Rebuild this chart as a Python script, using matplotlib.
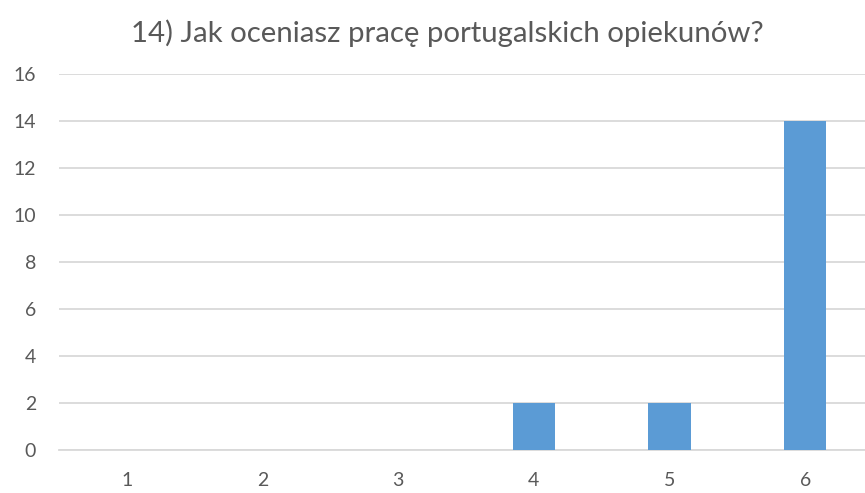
import matplotlib
matplotlib.use("Agg")
import matplotlib.pyplot as plt

# ratings and how many people gave each
categories = ["1", "2", "3", "4", "5", "6"]
counts = [0, 0, 0, 2, 2, 14]
y_ticks = [0, 2, 4, 6, 8, 10, 12, 14, 16]
title = "14) Jak oceniasz pracę portugalskich opiekunów?"

plt.rcParams['font.family'] = ['Lato', 'DejaVu Sans']

fig = plt.figure(figsize=(8.65, 4.93), dpi=100)
ax = fig.add_axes([0.0682, 0.0872, 0.941, 0.7633])

x = list(range(len(categories)))
ax.bar(x, counts, width=0.314, color='#5B9BD5', zorder=3)

ax.set_xlim(-0.5, len(categories) - 0.5)
ax.set_ylim(0, 16)
ax.set_yticks(y_ticks)
ax.set_xticks(x)
ax.set_xticklabels(categories)

ax.grid(axis='y', color='#D9D9D9', linewidth=1.3, zorder=0)
for side in ['top', 'right', 'left']:
    ax.spines[side].set_visible(False)
ax.spines['bottom'].set_color('#D9D9D9')
ax.spines['bottom'].set_linewidth(1.3)

ax.tick_params(axis='both', length=0, labelsize=14, colors='#595959')
ax.tick_params(axis='x', pad=16)
ax.tick_params(axis='y', pad=16.5)

fig.text(0.517, 0.933, title, ha='center', va='center', fontsize=21.2, color='#595959')

fig.savefig('out.png', dpi=100)
